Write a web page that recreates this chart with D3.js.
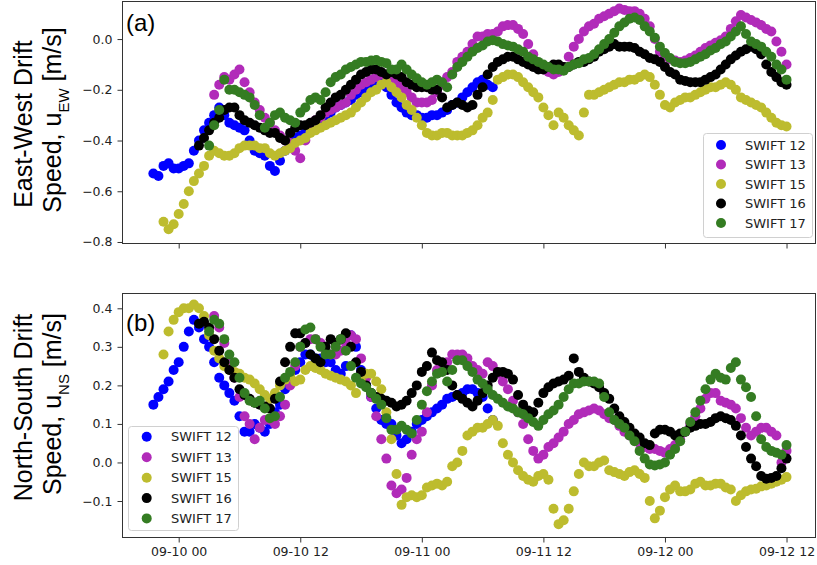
<!DOCTYPE html>
<html>
<head>
<meta charset="utf-8">
<script src="https://cdn.jsdelivr.net/npm/d3@7"></script>
<style>
  body { margin: 0; background: #fff; }
  svg { display: block; }
</style>
</head>
<body>
<svg id="chart" width="817" height="565"></svg>
<script>
// ---- Drifter data: half-hourly drift speeds (m/s) ----
const seriesNames = ["SWIFT 12", "SWIFT 13", "SWIFT 15", "SWIFT 16", "SWIFT 17"];
// first sample of each drifter, hours after 2022-09-10 00:00 UTC
const startHours = [-2.5, 3.5, -1.5, 2.0, 3.0];
const stepHours = 0.5;

// East-West drift speed u_EW
const ew12 = [-0.53,-0.54,-0.50,-0.49,-0.51,-0.51,-0.50,-0.49,-0.44,-0.40,
  -0.36,-0.33,-0.30,-0.27,-0.30,-0.33,-0.34,-0.35,-0.36,-0.40,
  -0.44,-0.45,-0.46,-0.50,-0.52,-0.48,-0.44,-0.41,-0.39,-0.38,
  -0.37,-0.35,-0.33,-0.32,-0.30,-0.29,-0.27,-0.26,-0.25,-0.24,
  -0.22,-0.21,-0.20,-0.19,-0.18,-0.17,-0.19,-0.22,-0.25,-0.27,
  -0.29,-0.30,-0.30,-0.31,-0.31,-0.30,-0.30,-0.29,-0.28,-0.26,
  -0.25,-0.23,-0.21,-0.19,-0.17,-0.16,-0.18,-0.19];
const ew13 = [-0.22,-0.18,-0.15,-0.16,-0.14,-0.12,-0.17,-0.21,-0.25,-0.28,
  -0.31,-0.33,-0.36,-0.38,-0.40,-0.41,-0.44,-0.47,-0.40,-0.35,
  -0.32,-0.31,-0.29,-0.28,-0.27,-0.26,-0.25,-0.22,-0.20,-0.18,
  -0.17,-0.16,-0.15,-0.14,-0.14,-0.15,-0.17,-0.19,-0.21,-0.23,
  -0.25,-0.25,-0.25,-0.24,-0.21,-0.18,-0.15,-0.13,-0.09,-0.07,
  -0.05,-0.02,0.01,0.01,0.02,0.02,0.03,0.05,0.055,0.055,
  0.04,0.02,-0.02,-0.06,-0.10,-0.12,-0.13,-0.14,-0.13,-0.11,
  -0.07,-0.03,0.00,0.03,0.05,0.06,0.08,0.09,0.10,0.11,
  0.12,0.115,0.11,0.11,0.10,0.08,0.05,0.00,-0.05,-0.07,
  -0.08,-0.085,-0.09,-0.085,-0.075,-0.065,-0.05,-0.035,-0.025,-0.015,
  -0.005,0.01,0.04,0.07,0.095,0.085,0.075,0.065,0.055,0.04,
  0.03,-0.01,-0.05,-0.10];
const ew15 = [-0.72,-0.75,-0.73,-0.69,-0.65,-0.60,-0.56,-0.53,-0.50,-0.46,
  -0.44,-0.45,-0.46,-0.46,-0.45,-0.43,-0.42,-0.42,-0.42,-0.43,
  -0.43,-0.45,-0.46,-0.45,-0.44,-0.43,-0.41,-0.40,-0.39,-0.37,
  -0.36,-0.35,-0.34,-0.33,-0.32,-0.31,-0.30,-0.29,-0.27,-0.25,
  -0.23,-0.21,-0.20,-0.18,-0.17,-0.19,-0.21,-0.23,-0.26,-0.28,
  -0.31,-0.34,-0.37,-0.38,-0.38,-0.37,-0.37,-0.38,-0.38,-0.38,
  -0.37,-0.36,-0.34,-0.31,-0.29,-0.24,-0.16,-0.15,-0.14,-0.14,
  -0.15,-0.17,-0.19,-0.21,-0.23,-0.27,-0.30,-0.34,-0.29,-0.31,
  -0.34,-0.36,-0.38,-0.29,-0.22,-0.22,-0.21,-0.20,-0.19,-0.18,
  -0.17,-0.17,-0.16,-0.16,-0.15,-0.14,-0.15,-0.18,-0.22,-0.26,
  -0.27,-0.25,-0.24,-0.23,-0.23,-0.22,-0.21,-0.20,-0.19,-0.19,
  -0.18,-0.17,-0.18,-0.20,-0.23,-0.24,-0.25,-0.26,-0.27,-0.29,
  -0.31,-0.33,-0.34,-0.345];
const ew16 = [-0.42,-0.39,-0.36,-0.33,-0.31,-0.28,-0.27,-0.27,-0.30,-0.32,
  -0.33,-0.34,-0.35,-0.36,-0.37,-0.37,-0.39,-0.40,-0.37,-0.35,
  -0.34,-0.34,-0.33,-0.32,-0.30,-0.27,-0.25,-0.23,-0.22,-0.20,
  -0.18,-0.16,-0.14,-0.13,-0.12,-0.12,-0.13,-0.14,-0.13,-0.14,
  -0.15,-0.17,-0.18,-0.19,-0.19,-0.19,-0.20,-0.20,-0.23,-0.27,
  -0.26,-0.25,-0.26,-0.27,-0.26,-0.22,-0.19,-0.14,-0.11,-0.09,
  -0.08,-0.07,-0.07,-0.08,-0.09,-0.10,-0.11,-0.12,-0.12,-0.11,
  -0.10,-0.10,-0.11,-0.11,-0.10,-0.09,-0.09,-0.08,-0.07,-0.05,
  -0.04,-0.03,-0.02,-0.03,-0.03,-0.03,-0.035,-0.05,-0.06,-0.075,
  -0.08,-0.09,-0.11,-0.13,-0.14,-0.16,-0.165,-0.17,-0.17,-0.17,
  -0.16,-0.15,-0.14,-0.12,-0.10,-0.08,-0.065,-0.05,-0.04,-0.03,
  -0.04,-0.06,-0.10,-0.13,-0.15,-0.17,-0.18];
const ew17 = [-0.42,-0.34,-0.28,-0.16,-0.20,-0.20,-0.21,-0.22,-0.23,-0.26,
  -0.30,-0.35,-0.33,-0.30,-0.29,-0.31,-0.32,-0.33,-0.29,-0.27,
  -0.24,-0.23,-0.24,-0.21,-0.17,-0.15,-0.14,-0.12,-0.11,-0.10,
  -0.09,-0.09,-0.085,-0.083,-0.09,-0.095,-0.12,-0.12,-0.10,-0.12,
  -0.14,-0.155,-0.17,-0.18,-0.17,-0.16,-0.17,-0.19,-0.14,-0.11,
  -0.09,-0.07,-0.05,-0.035,-0.025,-0.01,-0.005,-0.01,-0.02,-0.025,
  -0.03,-0.04,-0.05,-0.07,-0.08,-0.09,-0.10,-0.11,-0.12,-0.12,
  -0.125,-0.11,-0.10,-0.095,-0.08,-0.075,-0.06,-0.04,-0.02,0.00,
  0.025,0.05,0.065,0.08,0.085,0.075,0.05,0.03,0.005,-0.03,
  -0.055,-0.075,-0.09,-0.095,-0.095,-0.09,-0.08,-0.07,-0.06,-0.045,
  -0.035,-0.02,-0.01,0.01,0.03,0.05,0.02,-0.01,-0.02,-0.03,
  -0.05,-0.07,-0.10,-0.12,-0.16];

// North-South drift speed u_NS
const ns12 = [0.15,0.17,0.19,0.21,0.24,0.26,0.30,0.34,0.37,0.35,
  0.32,0.30,0.26,0.22,0.20,0.18,0.16,0.12,0.08,0.08,
  0.10,0.09,0.08,0.10,0.13,0.15,0.19,0.22,0.24,0.26,
  0.28,0.28,0.27,0.27,0.26,0.26,0.24,0.23,0.25,0.33,
  0.30,0.24,0.20,0.17,0.14,0.11,0.10,0.10,0.07,0.05,
  0.06,0.08,0.10,0.11,0.12,0.13,0.14,0.15,0.165,0.17,
  0.175,0.18,0.19,0.19,0.18,0.17,0.14,0.11];
const ns13 = [0.38,0.35,0.31,0.26,0.22,0.17,0.12,0.10,0.06,0.09,
  0.11,0.11,0.10,0.12,0.15,0.20,0.25,0.30,0.31,0.32,
  0.32,0.31,0.29,0.28,0.28,0.29,0.31,0.33,0.32,0.27,
  0.22,0.17,0.12,0.06,0.01,-0.06,-0.08,-0.07,-0.04,0.02,
  0.06,0.08,0.13,0.20,0.24,0.25,0.26,0.28,0.28,0.28,
  0.27,0.25,0.24,0.23,0.26,0.25,0.23,0.21,0.19,0.16,
  0.13,0.10,0.06,0.03,0.01,0.02,0.04,0.05,0.065,0.08,
  0.10,0.11,0.125,0.13,0.135,0.14,0.135,0.125,0.115,0.11,
  0.095,0.08,0.07,0.06,0.05,0.04,0.035,0.035,0.03,0.025,
  0.035,0.045,0.06,0.08,0.10,0.12,0.14,0.165,0.18,0.18,
  0.16,0.155,0.15,0.14,0.115,0.09,0.07,0.08,0.09,0.09,
  0.08,0.07,0.00,0.03];
const ns15 = [0.28,0.34,0.37,0.39,0.40,0.40,0.41,0.40,0.38,0.33,
  0.29,0.27,0.25,0.24,0.235,0.23,0.22,0.215,0.205,0.19,
  0.175,0.165,0.18,0.20,0.215,0.225,0.21,0.215,0.24,0.25,
  0.245,0.24,0.23,0.225,0.22,0.215,0.21,0.20,0.18,0.21,
  0.23,0.23,0.21,0.19,0.13,0.06,-0.03,-0.11,-0.09,-0.085,
  -0.09,-0.085,-0.065,-0.06,-0.055,-0.06,-0.05,-0.01,0.00,0.03,
  0.07,0.08,0.09,0.09,0.10,0.11,0.095,0.05,0.02,0.00,
  -0.02,-0.035,-0.045,-0.05,-0.035,-0.03,-0.045,-0.12,-0.16,-0.15,
  -0.12,-0.075,-0.03,0.00,-0.01,-0.01,0.00,0.005,-0.02,-0.025,
  -0.03,-0.035,-0.025,-0.02,-0.03,-0.04,-0.10,-0.145,-0.125,-0.09,
  -0.07,-0.06,-0.075,-0.075,-0.07,-0.055,-0.05,-0.06,-0.06,-0.055,
  -0.055,-0.065,-0.07,-0.10,-0.085,-0.075,-0.07,-0.068,-0.062,-0.06,
  -0.055,-0.05,-0.045,-0.038];
const ns16 = [0.36,0.365,0.35,0.32,0.29,0.26,0.24,0.22,0.19,0.175,
  0.165,0.155,0.15,0.145,0.14,0.165,0.21,0.26,0.30,0.335,
  0.335,0.31,0.28,0.27,0.26,0.30,0.32,0.31,0.32,0.335,
  0.30,0.26,0.235,0.20,0.18,0.17,0.165,0.16,0.155,0.145,
  0.15,0.16,0.18,0.20,0.235,0.25,0.285,0.265,0.26,0.24,
  0.20,0.175,0.165,0.155,0.145,0.16,0.18,0.20,0.22,0.235,
  0.235,0.23,0.215,0.175,0.15,0.135,0.13,0.155,0.18,0.195,
  0.205,0.21,0.215,0.225,0.27,0.235,0.22,0.21,0.205,0.195,
  0.18,0.165,0.14,0.12,0.105,0.09,0.075,0.065,0.05,0.045,
  0.075,0.085,0.085,0.08,0.07,0.075,0.08,0.09,0.095,0.10,
  0.10,0.105,0.115,0.12,0.115,0.11,0.095,0.07,0.04,0.01,
  -0.01,-0.035,-0.042,-0.04,-0.035,-0.015,0.01];
const ns17 = [0.34,0.37,0.36,0.32,0.28,0.26,0.22,0.18,0.16,0.155,
  0.16,0.14,0.115,0.12,0.17,0.22,0.235,0.26,0.30,0.345,
  0.35,0.32,0.30,0.28,0.28,0.30,0.32,0.29,0.25,0.22,
  0.205,0.195,0.18,0.165,0.15,0.115,0.085,0.085,0.095,0.085,
  0.075,0.11,0.15,0.185,0.21,0.23,0.235,0.21,0.24,0.265,
  0.265,0.25,0.235,0.215,0.205,0.19,0.175,0.165,0.155,0.145,
  0.14,0.13,0.125,0.115,0.105,0.095,0.11,0.125,0.135,0.15,
  0.17,0.19,0.205,0.205,0.21,0.21,0.21,0.205,0.17,0.13,
  0.11,0.10,0.09,0.07,0.055,0.03,0.01,-0.005,-0.008,-0.005,
  0.00,0.02,0.035,0.055,0.08,0.105,0.13,0.16,0.19,0.215,
  0.23,0.22,0.215,0.245,0.26,0.215,0.195,0.17,0.12,0.06,
  0.04,0.03,0.025,0.02,0.045];

// axis ticks
const xTickHours = [0, 12, 24, 36, 48, 60];
const xTickLabels = ["09-10 00", "09-10 12", "09-11 00", "09-11 12", "09-12 00", "09-12 12"];
const ewTicks = [0.0, -0.2, -0.4, -0.6, -0.8];
const nsTicks = [0.4, 0.3, 0.2, 0.1, 0.0, -0.1];

// ---- styling / layout ----
const colors = ["#0000ff", "#b12bb9", "#bdbc2e", "#000000", "#347c22"];
const T0 = Date.UTC(2022, 8, 10, 0, 0, 0);
const atHour = h => new Date(T0 + h * 3600e3);
const plotLeft = 122, plotRight = 816;
const axisColor = "#333";
const tickFont = "'DejaVu Sans', sans-serif";
const labelFont = "'Liberation Sans', Arial, sans-serif";
const markerR = 5;

const x = d3.scaleUtc()
  .domain([atHour(-5.597), atHour(62.91)])
  .range([plotLeft, plotRight]);

const svg = d3.select("#chart");
svg.append("rect").attr("width", 817).attr("height", 565).attr("fill", "#fff");

const panels = [
  {
    id: "ew", top: 1, bottom: 243, domain: [-0.804, 0.150], ticks: ewTicks,
    data: [ew12, ew13, ew15, ew16, ew17],
    line1: "East-West Drift", sub: "EW", c1: 124, c2: 120,
    tag: "(a)", tagY: 30.5, xLabels: false,
    legend: { x: 703, y: 133, w: 109, h: 104, mx: 721, tx: 745, rows: [145, 164.5, 184, 203.5, 223] }
  },
  {
    id: "ns", top: 293, bottom: 537, domain: [-0.1934, 0.4397], ticks: nsTicks,
    data: [ns12, ns13, ns15, ns16, ns17],
    line1: "North-South Drift", sub: "NS", c1: 407.5, c2: 404,
    tag: "(b)", tagY: 330.5, xLabels: true,
    legend: { x: 128, y: 426, w: 110, h: 104, mx: 146.7, tx: 171, rows: [436.7, 457.3, 477.7, 498.1, 518.4] }
  }
];

panels.forEach(p => {
  const y = d3.scaleLinear().domain(p.domain).range([p.bottom, p.top]);
  const g = svg.append("g").attr("class", "panel-" + p.id);

  g.append("clipPath").attr("id", "clip-" + p.id)
    .append("rect")
    .attr("x", plotLeft).attr("y", p.top)
    .attr("width", plotRight - plotLeft).attr("height", p.bottom - p.top);

  // scatter of each drifter, drawn in legend order
  const dots = g.append("g").attr("clip-path", `url(#clip-${p.id})`);
  p.data.forEach((vals, s) => {
    const pts = vals.map((v, i) => ({ t: atHour(startHours[s] + i * stepHours), v }));
    dots.append("g").attr("fill", colors[s])
      .selectAll("circle").data(pts).join("circle")
      .attr("cx", d => x(d.t))
      .attr("cy", d => y(d.v))
      .attr("r", markerR);
  });

  // frame
  g.append("rect")
    .attr("x", plotLeft + 0.5).attr("y", p.top + 0.5)
    .attr("width", plotRight - plotLeft - 1).attr("height", p.bottom - p.top)
    .attr("fill", "none").attr("stroke", axisColor).attr("stroke-width", 1);

  // x axis
  const xAxis = d3.axisBottom(x)
    .tickValues(xTickHours.map(atHour))
    .tickFormat((d, i) => p.xLabels ? xTickLabels[i] : "")
    .tickSize(5).tickPadding(5).tickSizeOuter(0);
  const gx = g.append("g").attr("transform", `translate(0,${p.bottom + 0.5})`).call(xAxis);
  gx.select(".domain").remove();
  gx.selectAll("line").attr("stroke", axisColor);
  gx.selectAll("text").attr("fill", "#222").style("font-family", tickFont).style("font-size", "12.5px");

  // y axis
  const yAxis = d3.axisLeft(y)
    .tickValues(p.ticks)
    .tickFormat(d3.format(".1f"))
    .tickSize(5).tickPadding(5).tickSizeOuter(0);
  const gy = g.append("g").attr("transform", `translate(${plotLeft + 0.5},0)`).call(yAxis);
  gy.select(".domain").remove();
  gy.selectAll("line").attr("stroke", axisColor);
  gy.selectAll("text").attr("fill", "#222").style("font-family", tickFont).style("font-size", "12.5px");

  // y label, two lines
  g.append("text")
    .attr("transform", `translate(31.5,${p.c1}) rotate(-90)`)
    .attr("text-anchor", "middle")
    .style("font-family", labelFont).style("font-size", "25px").attr("fill", "#000")
    .text(p.line1);
  const l2 = g.append("text")
    .attr("transform", `translate(61,${p.c2}) rotate(-90)`)
    .attr("text-anchor", "middle")
    .style("font-family", labelFont).style("font-size", "25px").attr("fill", "#000");
  l2.append("tspan").text("Speed, u");
  l2.append("tspan").attr("dy", 8).style("font-size", "15px").text(p.sub);
  l2.append("tspan").attr("dy", -8).text(" [m/s]");

  // panel tag
  g.append("text")
    .attr("x", 126).attr("y", p.tagY)
    .style("font-family", labelFont).style("font-size", "24px").attr("fill", "#000")
    .text(p.tag);

  // legend
  const L = p.legend;
  const lg = g.append("g");
  lg.append("rect")
    .attr("x", L.x + 0.5).attr("y", L.y + 0.5).attr("width", L.w).attr("height", L.h)
    .attr("rx", 3).attr("fill", "#fff").attr("fill-opacity", 0.8)
    .attr("stroke", "#d0d0d0");
  seriesNames.forEach((name, s) => {
    lg.append("circle").attr("cx", L.mx).attr("cy", L.rows[s]).attr("r", markerR).attr("fill", colors[s]);
    lg.append("text").attr("x", L.tx).attr("y", L.rows[s]).attr("dy", "0.36em")
      .style("font-family", tickFont).style("font-size", "13px").attr("fill", "#222")
      .text(name);
  });
});
</script>
</body>
</html>
